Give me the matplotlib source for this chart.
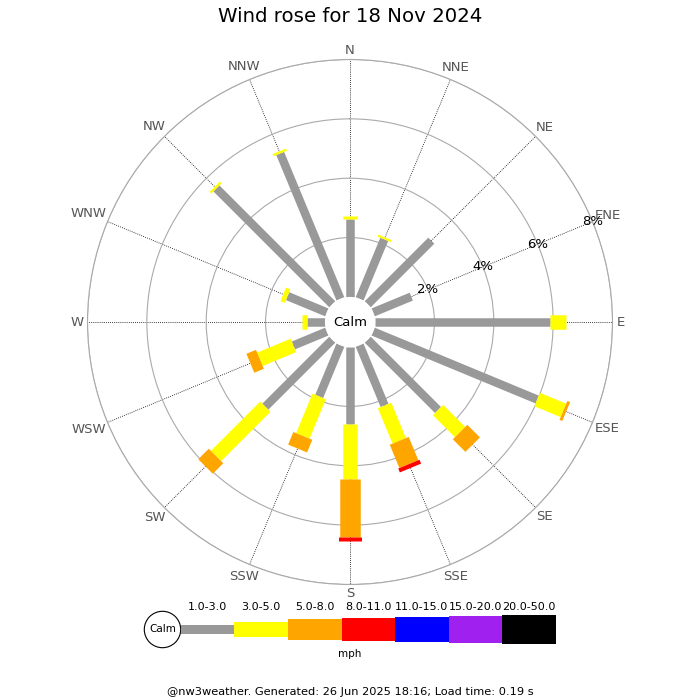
import numpy as np
import matplotlib
matplotlib.use('Agg')
import matplotlib.pyplot as plt
from matplotlib.patches import Circle, Rectangle


# Data (percent of the day, per direction and speed class)
directions = ['N', 'NNE', 'NE', 'ENE', 'E', 'ESE', 'SE', 'SSE',
              'S', 'SSW', 'SW', 'WSW', 'W', 'WNW', 'NW', 'NNW']
speed_bins = ['1.0-3.0', '3.0-5.0', '5.0-8.0', '8.0-11.0',
              '11.0-15.0', '15.0-20.0', '20.0-50.0']
bin_colors = ['#999999', '#ffff00', '#ffa500', '#ff0000',
              '#0000ff', '#a020f0', '#000000']
pct_1_3 = [2.64, 2.17, 3.03, 1.39, 5.89, 5.98, 3.35, 2.20,
           2.58, 1.87, 3.19, 1.22, 0.62, 1.43, 5.52, 5.30]
pct_3_5 = [0.07, 0.07, 0.00, 0.00, 0.55, 0.96, 1.05, 1.29,
           1.88, 1.44, 2.35, 1.22, 0.14, 0.16, 0.08, 0.08]
pct_5_8 = [0.00, 0.00, 0.00, 0.00, 0.00, 0.10, 0.60, 0.85,
           1.95, 0.46, 0.50, 0.35, 0.00, 0.00, 0.00, 0.00]
pct_8_11 = [0.00, 0.00, 0.00, 0.00, 0.00, 0.00, 0.00, 0.14,
            0.14, 0.00, 0.00, 0.00, 0.00, 0.00, 0.00, 0.00]
ring_values = [2, 4, 6, 8]
ring_labels = ['2%', '4%', '6%', '8%']

title = 'Wind rose for 18 Nov 2024'
footer = '@nw3weather. Generated: 26 Jun 2025 18:16; Load time: 0.19 s'

DPI = 100
PX = 72. / DPI  # points per pixel
bar_px = [8.5, 14.5, 20.5, 23, 25, 27, 29]

fig = plt.figure(figsize=(7, 7), dpi=DPI)

# Polar axes: centre (350, 322) px, outer radius 262.5 px
R_PX = 262.5
ORIGIN = -0.845
RMAX = 8
R = R_PX / 700
ax = fig.add_axes([0.5 - R, (1 - 322 / 700) - R, 2 * R, 2 * R], projection='polar')
ax.set_theta_zero_location('N')
ax.set_theta_direction(-1)
ax.set_ylim(0, RMAX)
ax.set_rorigin(ORIGIN)
ax.set_axisbelow(True)

ax.set_thetagrids(np.arange(0, 360, 22.5), labels=[''] * 16)
ax.set_rgrids(ring_values, labels=[''] * len(ring_values))
ax.xaxis.grid(True, color='black', linestyle=(0, (1, 1.5)), linewidth=0.6)
ax.yaxis.grid(True, color='#aaaaaa', linestyle='-', linewidth=0.8)
ax.spines['polar'].set_color('#aaaaaa')
ax.spines['polar'].set_linewidth(0.8)
for s in ['inner', 'start', 'end']:
    ax.spines[s].set_visible(False)
ax.tick_params(length=0)

# white calm hole, no outline (bars are drawn over its rim)
ax.add_patch(Circle((0.5, 0.5), 27.5 / (2 * R_PX), transform=ax.transAxes,
                    facecolor='white', edgecolor='none', zorder=2.9,
                    clip_on=False))

thetas = np.deg2rad(np.arange(16) * 22.5)
series = [pct_1_3, pct_3_5, pct_5_8, pct_8_11]

for i, th in enumerate(thetas):
    base = 0.0
    for k, vals in enumerate(series):
        v = vals[i]
        if v <= 0:
            continue
        ax.plot([th, th], [base, base + v], color=bin_colors[k],
                lw=bar_px[k] * PX, solid_capstyle='butt', zorder=3 + k)
        base += v

# direction labels: keep the text box just clear of the outer ring
renderer = fig.canvas.get_renderer()
for th, name in zip(thetas, directions):
    t = ax.text(th, 8.3, name, ha='center', va='center', fontsize=9.5,
                color='#555555', clip_on=False)
    bb = t.get_window_extent(renderer)
    d = 267 + abs(np.sin(th)) * bb.width * 0.42 + abs(np.cos(th)) * 4.5
    t.set_position((th, d / R_PX * (RMAX - ORIGIN) + ORIGIN))

# ring labels along ENE
for r, lab in zip(ring_values, ring_labels):
    ax.text(np.deg2rad(67.5), r, lab, ha='center', va='center',
            fontsize=9.5, color='black', zorder=10)

ax.text(0.5, 0.5, 'Calm', transform=ax.transAxes, ha='center',
        va='center', fontsize=9.5, zorder=12)

# overlay in pixel coordinates for title, legend and footer
ov = fig.add_axes([0, 0, 1, 1], zorder=-1)
ov.set_xlim(0, 700)
ov.set_ylim(700, 0)
ov.axis('off')

ov.text(350, 17, title, ha='center', va='center', fontsize=14.2)

leg_x0, leg_y, seg_w = 180.7, 629.5, 53.6
ov.add_patch(Circle((162.5, leg_y), 18.2, facecolor='white',
                    edgecolor='black', linewidth=0.8))
ov.text(162.5, leg_y, 'Calm', ha='center', va='center', fontsize=7.5)
for k, (lab, col) in enumerate(zip(speed_bins, bin_colors)):
    x = leg_x0 + k * seg_w
    h = bar_px[k]
    ov.add_patch(Rectangle((x, leg_y - h / 2), seg_w, h, facecolor=col,
                           edgecolor='none'))
    ov.text(x + seg_w / 2, 606.5, lab, ha='center', va='center', fontsize=8)
ov.text(350, 654, 'mph', ha='center', va='center', fontsize=7.5)

ov.text(350, 692, footer, ha='center', va='center', fontsize=8.2)

fig.savefig('out.png', dpi=DPI)
